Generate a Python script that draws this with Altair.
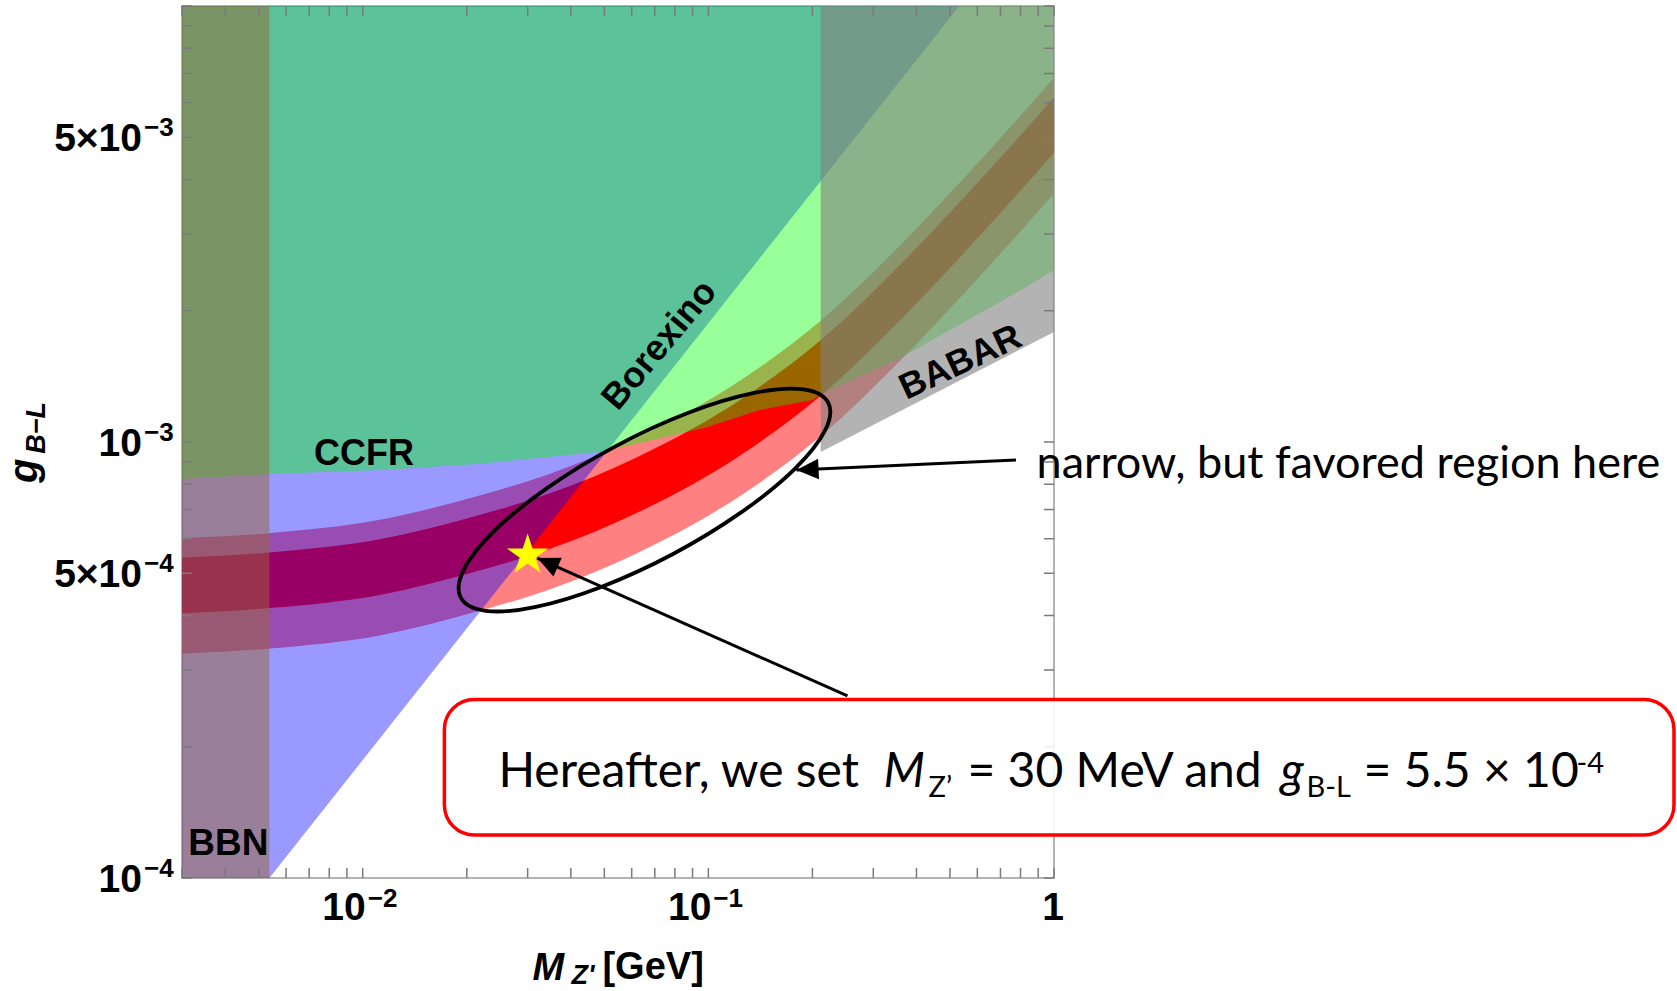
import altair as alt
import pandas as pd

# ---------------- axes ----------------
X_DOMAIN = [0.003, 1.0]          # M_Z' [GeV]
Y_DOMAIN = [1e-4, 1e-2]          # g_B-L

x_ticks = [0.003, 0.004, 0.005, 0.006, 0.007, 0.008, 0.009, 0.01,
           0.02, 0.03, 0.04, 0.05, 0.06, 0.07, 0.08, 0.09, 0.1,
           0.2, 0.3, 0.4, 0.5, 0.6, 0.7, 0.8, 0.9, 1.0]
y_ticks = [1e-4, 2e-4, 3e-4, 4e-4, 5e-4, 6e-4, 7e-4, 8e-4, 9e-4, 1e-3,
           2e-3, 3e-3, 4e-3, 5e-3, 6e-3, 7e-3, 8e-3, 9e-3, 1e-2]

y_lab_vals = [1e-4, 5e-4, 1e-3, 5e-3]
y_lab_base = ["10", "5\u00d710", "10", "5\u00d710"]
y_lab_exp = ["\u22124", "\u22124", "\u22123", "\u22123"]
x_lab_vals = [0.01, 0.1]
x_lab_base = ["10", "10"]
x_lab_exp = ["\u22122", "\u22121"]
x_lab_one = [1.0]

# ---------------- g-2 favoured band ----------------
band_m = [0.003, 0.00537, 0.0112, 0.0215, 0.0347, 0.062, 0.128, 0.2125,
          0.364, 0.479, 0.696, 1.0]
band2_hi = [6.02e-4, 6.18e-4, 6.63e-4, 7.52e-4, 8.45e-4, 1.021e-3, 1.409e-3,
            1.905e-3, 2.861e-3, 3.589e-3, 4.955e-3, 6.84e-3]
band1_hi = [5.43e-4, 5.58e-4, 5.98e-4, 6.78e-4, 7.62e-4, 9.22e-4, 1.272e-3,
            1.718e-3, 2.581e-3, 3.238e-3, 4.470e-3, 6.17e-3]
band1_lo = [4.05e-4, 4.16e-4, 4.46e-4, 5.06e-4, 5.68e-4, 6.87e-4, 9.49e-4,
            1.282e-3, 1.925e-3, 2.416e-3, 3.334e-3, 4.60e-3]
band2_lo = [3.27e-4, 3.36e-4, 3.60e-4, 4.09e-4, 4.59e-4, 5.55e-4, 7.66e-4,
            1.035e-3, 1.554e-3, 1.950e-3, 2.692e-3, 3.715e-3]

# ---------------- exclusion regions ----------------
borexino_m = [0.003, 0.00537, 0.532]
borexino_g = [1e-4, 1e-4, 1e-2]

ccfr_m = [0.003, 0.00537, 0.0113, 0.0215, 0.0484, 0.0675, 0.0994, 0.1405,
          0.2001, 0.2125, 0.3643, 0.5435, 0.8325, 1.0]
ccfr_g = [8.23e-4, 8.44e-4, 8.63e-4, 8.90e-4, 9.49e-4, 1.005e-3, 1.082e-3,
          1.184e-3, 1.248e-3, 1.288e-3, 1.567e-3, 1.875e-3, 2.267e-3, 2.480e-3]

babar_m = [0.2113, 0.454, 1.0]
babar_g = [9.49e-4, 1.295e-3, 1.788e-3]

bbn_m = [0.003, 0.00537]

# ---------------- annotations ----------------
ell_m = [0.2221, 0.2176, 0.1776, 0.1244, 0.07904, 0.04875, 0.03146, 0.02267,
         0.01922, 0.01961, 0.02403, 0.03430, 0.05400, 0.08752, 0.1357, 0.1882]
ell_g = [1.232e-3, 1.063e-3, 8.668e-4, 6.895e-4, 5.536e-4, 4.645e-4, 4.181e-4,
         4.100e-4, 4.394e-4, 5.096e-4, 6.253e-4, 7.859e-4, 9.786e-4, 1.167e-3,
         1.296e-3, 1.321e-3]

star_m = [0.03]
star_g = [5.5e-4]

arrow1_m = [0.7762, 0.1798]
arrow1_g = [9.09e-4, 8.63e-4]
arrow2_m = [0.2526, 0.03201]
arrow2_g = [2.615e-4, 5.418e-4]
head_m = [0.1798, 0.03201]
head_g = [8.63e-4, 5.418e-4]
head_ang = [267.4, 294.0]

box_m = [0.01723, 62.2]
box_g = [1.255e-4, 2.567e-4]

# ---------------- helpers ----------------
xs = alt.Scale(type="log", domain=X_DOMAIN, nice=False)
ys = alt.Scale(type="log", domain=Y_DOMAIN, nice=False)

STAR_PATH = ("M0,-1L0.2245,-0.309L0.9511,-0.309L0.3633,0.118L0.5878,0.809L0,0.382"
             "L-0.5878,0.809L-0.3633,0.118L-0.9511,-0.309L-0.2245,-0.309Z")
HEAD_PATH = "M0,0L0.65,1.4L-0.65,1.4Z"


def X(f):
    return alt.X(f, type="quantitative", scale=xs, axis=None)


def Y(f):
    return alt.Y(f, type="quantitative", scale=ys, axis=None)


def text_layer(ms, gs, texts, **kw):
    df = pd.DataFrame({"m": ms, "g": gs, "t": texts})
    base = dict(color="black")
    base.update(kw)
    return alt.Chart(df).mark_text(**base).encode(x=X("m"), y=Y("g"), text="t:N")


TOP = Y_DOMAIN[1]
BOT = Y_DOMAIN[0]
LAB_FONT = "Liberation Sans"
SLIDE_FONT = "Lato"

band = pd.DataFrame({"m": band_m, "lo2": band2_lo, "hi2": band2_hi,
                     "lo1": band1_lo, "hi1": band1_hi})
l_band2 = alt.Chart(band).mark_area(color="#ff8080", opacity=1, interpolate="monotone").encode(
    x=X("m"), y=Y("lo2"), y2=alt.Y2("hi2"))
l_band1 = alt.Chart(band).mark_area(color="#ff0000", opacity=1, interpolate="monotone").encode(
    x=X("m"), y=Y("lo1"), y2=alt.Y2("hi1"))

bx = pd.DataFrame({"m": borexino_m, "lo": borexino_g, "hi": [TOP] * len(borexino_m)})
l_blue = alt.Chart(bx).mark_area(color="#0000ff", opacity=0.4).encode(
    x=X("m"), y=Y("lo"), y2=alt.Y2("hi"))

cc = pd.DataFrame({"m": ccfr_m, "lo": ccfr_g, "hi": [TOP] * len(ccfr_m)})
l_green = alt.Chart(cc).mark_area(color="#00ff00", opacity=0.4).encode(
    x=X("m"), y=Y("lo"), y2=alt.Y2("hi"))

bb = pd.DataFrame({"m": babar_m, "lo": babar_g, "hi": [TOP] * len(babar_m)})
l_gray = alt.Chart(bb).mark_area(color="#808080", opacity=0.6).encode(
    x=X("m"), y=Y("lo"), y2=alt.Y2("hi"))

bbn = pd.DataFrame({"m1": [bbn_m[0]], "m2": [bbn_m[1]], "g1": [BOT], "g2": [TOP]})
l_bbn = alt.Chart(bbn).mark_rect(color="#996633", opacity=0.5).encode(
    x=X("m1"), x2=alt.X2("m2"), y=Y("g1"), y2=alt.Y2("g2"))

# frame ticks (inside, all four sides)
xt = pd.DataFrame({"m": x_ticks, "gb": BOT, "gt": TOP})
yt = pd.DataFrame({"g": y_ticks, "ml": X_DOMAIN[0], "mr": X_DOMAIN[1]})
tick_style = dict(size=10, thickness=1.5, color="#7a7a7a", opacity=1)
l_xtb = alt.Chart(xt).mark_tick(orient="vertical", yOffset=-5, **tick_style).encode(x=X("m"), y=Y("gb"))
l_xtt = alt.Chart(xt).mark_tick(orient="vertical", yOffset=5, **tick_style).encode(x=X("m"), y=Y("gt"))
l_ytl = alt.Chart(yt).mark_tick(orient="horizontal", xOffset=5, **tick_style).encode(x=X("ml"), y=Y("g"))
l_ytr = alt.Chart(yt).mark_tick(orient="horizontal", xOffset=-5, **tick_style).encode(x=X("mr"), y=Y("g"))

# region labels
l_bbn_t = text_layer([3.13e-3], [1.129e-4], ["BBN"], font=LAB_FONT, fontWeight="bold",
                     fontSize=37, align="left", baseline="alphabetic")
l_ccfr_t = text_layer([0.01009], [8.853e-4], ["CCFR"], font=LAB_FONT, fontWeight="bold",
                      fontSize=36, align="center", baseline="alphabetic")
l_bor_t = text_layer([0.07219], [1.669e-3], ["Borexino"], font=LAB_FONT, fontWeight="bold",
                     fontSize=36, align="center", baseline="middle", angle=310)
l_bab_t = text_layer([0.5363], [1.522e-3], ["BABAR"], font=LAB_FONT, fontWeight="bold",
                     fontSize=36, align="center", baseline="middle", angle=335)

# tick labels
yl = pd.DataFrame({"m": [X_DOMAIN[0]] * 4, "g": y_lab_vals, "b": y_lab_base, "e": y_lab_exp})
l_ylb = alt.Chart(yl).mark_text(font=LAB_FONT, fontWeight="bold", fontSize=39, align="right",
                                baseline="alphabetic", dx=-40, dy=14, color="black").encode(
    x=X("m"), y=Y("g"), text="b:N")
l_yle = alt.Chart(yl).mark_text(font=LAB_FONT, fontWeight="bold", fontSize=26, align="left",
                                baseline="alphabetic", dx=-38, dy=-1, color="black").encode(
    x=X("m"), y=Y("g"), text="e:N")

xl = pd.DataFrame({"m": x_lab_vals, "g": [BOT] * 2, "b": x_lab_base, "e": x_lab_exp})
l_xlb = alt.Chart(xl).mark_text(font=LAB_FONT, fontWeight="bold", fontSize=39, align="right",
                                baseline="alphabetic", dx=3, dy=42, color="black").encode(
    x=X("m"), y=Y("g"), text="b:N")
l_xle = alt.Chart(xl).mark_text(font=LAB_FONT, fontWeight="bold", fontSize=26, align="left",
                                baseline="alphabetic", dx=5, dy=29, color="black").encode(
    x=X("m"), y=Y("g"), text="e:N")
l_xl1 = text_layer(x_lab_one, [BOT], ["1"], font=LAB_FONT, fontWeight="bold", fontSize=39,
                   align="center", baseline="alphabetic", dx=-1, dy=42)

# axis titles
xt_main = text_layer([0.03097], [BOT], ["M"], font=LAB_FONT, fontWeight="bold", fontStyle="italic",
                     fontSize=38, align="left", baseline="alphabetic", dy=102)
xt_sub = text_layer([0.0402], [BOT], ["Z'"], font=LAB_FONT, fontWeight="bold", fontStyle="italic",
                    fontSize=27, align="left", baseline="alphabetic", dy=106)
xt_unit = text_layer([0.04938], [BOT], ["[GeV]"], font=LAB_FONT, fontWeight="bold",
                     fontSize=38, align="left", baseline="alphabetic", dy=101)
yt_main = text_layer([1.139e-3], [8.05e-4], ["g"], font=LAB_FONT, fontWeight="bold", fontStyle="italic",
                     fontSize=40, align="left", baseline="alphabetic", angle=270)
yt_sub = text_layer([1.207e-3], [9.40e-4], ["B\u2212L"], font=LAB_FONT, fontWeight="bold",
                    fontStyle="italic", fontSize=27, align="left", baseline="alphabetic", angle=270)

# red box with the statement
bxd = pd.DataFrame({"m1": [box_m[0]], "m2": [box_m[1]], "g1": [box_g[0]], "g2": [box_g[1]]})
l_box = alt.Chart(bxd).mark_rect(fill="white", fillOpacity=0.88, stroke="#ff0000", strokeWidth=3.5,
                                 cornerRadius=30).encode(
    x=X("m1"), x2=alt.X2("m2"), y=Y("g1"), y2=alt.Y2("g2"))

box_reg = text_layer([0.0247, 0.5619, 7.864], [1.617e-4] * 3,
                     ["Hereafter, we set", "= 30 MeV and", "= 5.5 \u00d7 10"],
                     font=SLIDE_FONT, fontSize=48, align="left", baseline="alphabetic")
box_it = text_layer([0.3209, 4.523], [1.617e-4] * 2, ["M", "g"],
                    font=SLIDE_FONT, fontSize=48, fontStyle="italic", align="left", baseline="alphabetic")
box_sub = text_layer([0.4334, 5.378], [1.534e-4] * 2, ["Z\u2019", "B-L"],
                     font=SLIDE_FONT, fontSize=29, align="left", baseline="alphabetic")
box_sup = text_layer([32.5], [1.741e-4], ["-4"],
                     font=SLIDE_FONT, fontSize=29, align="left", baseline="alphabetic")

narrow_t = text_layer([0.8901], [8.267e-4], ["narrow, but favored region here"],
                      font=SLIDE_FONT, fontSize=45, align="left", baseline="alphabetic")

# ellipse, arrows, star
ell = pd.DataFrame({"i": list(range(len(ell_m))), "m": ell_m, "g": ell_g})
l_ell = alt.Chart(ell).mark_line(interpolate="cardinal-closed", color="black", strokeWidth=3.8).encode(
    x=X("m"), y=Y("g"), order="i:Q")

a1 = pd.DataFrame({"i": [0, 1], "m": arrow1_m, "g": arrow1_g})
l_arr1 = alt.Chart(a1).mark_line(color="black", strokeWidth=3).encode(x=X("m"), y=Y("g"), order="i:Q")
a2 = pd.DataFrame({"i": [0, 1], "m": arrow2_m, "g": arrow2_g})
l_arr2 = alt.Chart(a2).mark_line(color="black", strokeWidth=3).encode(x=X("m"), y=Y("g"), order="i:Q")

st = pd.DataFrame({"m": star_m, "g": star_g})
l_star = alt.Chart(st).mark_point(shape=STAR_PATH, filled=True, size=1900, color="#ffff00",
                                  opacity=1, strokeWidth=0).encode(x=X("m"), y=Y("g"))

hd = pd.DataFrame({"m": head_m, "g": head_g, "ang": head_ang})
l_head = alt.Chart(hd).mark_point(shape=HEAD_PATH, filled=True, size=1000,
                                  color="black", opacity=1, strokeWidth=0).encode(
    x=X("m"), y=Y("g"), angle=alt.Angle("ang:Q", scale=None))

chart = alt.layer(
    l_band2, l_band1, l_blue, l_green, l_gray, l_bbn,
    l_xtb, l_xtt, l_ytl, l_ytr,
    l_bbn_t, l_ccfr_t, l_bor_t, l_bab_t,
    l_ylb, l_yle, l_xlb, l_xle, l_xl1,
    xt_main, xt_sub, xt_unit, yt_main, yt_sub,
    l_box, box_reg, box_it, box_sub, box_sup, narrow_t,
    l_ell, l_arr1, l_arr2, l_star, l_head,
).properties(
    width=872, height=872,
    padding={"left": 182, "top": 6, "right": 623, "bottom": 113},
    autosize=alt.AutoSizeParams(type="none"),
).configure_view(stroke="#9a9a9a", strokeWidth=1.5)

chart.save("out.html", embed_options={"renderer": "svg", "actions": False})
